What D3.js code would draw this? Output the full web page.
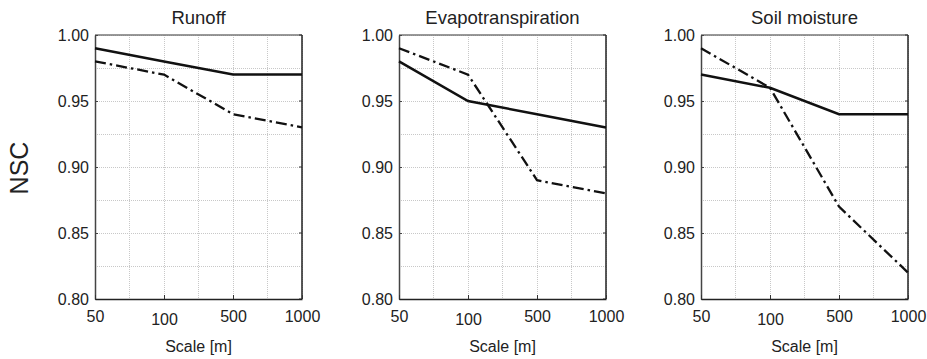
<!DOCTYPE html>
<html>
<head>
<meta charset="utf-8">
<script src="https://cdn.jsdelivr.net/npm/d3@7"></script>
<style>
  html, body { margin: 0; padding: 0; background: #fff; }
  svg { display: block; font-family: "Liberation Sans", Arial, sans-serif; }
</style>
</head>
<body>
<svg id="chart" width="927" height="359"></svg>
<script>
// Spatial scales (m) shown on the x axis
const scales = ["50", "100", "500", "1000"];
const panelTitles = ["Runoff", "Evapotranspiration", "Soil moisture"];
const yTicks = [0.80, 0.85, 0.90, 0.95, 1.00];

// NSC per scale, solid and dash-dot series for each variable
const runoffSolid = [0.99, 0.98, 0.97, 0.97];
const runoffDashDot = [0.98, 0.97, 0.94, 0.93];
const etSolid = [0.98, 0.95, 0.94, 0.93];
const etDashDot = [0.99, 0.97, 0.89, 0.88];
const soilSolid = [0.97, 0.96, 0.94, 0.94];
const soilDashDot = [0.99, 0.96, 0.87, 0.82];

const panels = [
  { title: panelTitles[0], solid: runoffSolid, dashdot: runoffDashDot, left: 95 },
  { title: panelTitles[1], solid: etSolid, dashdot: etDashDot, left: 399 },
  { title: panelTitles[2], solid: soilSolid, dashdot: soilDashDot, left: 701 }
];

const svg = d3.select("#chart");
const plotW = 207, plotTop = 35, plotBottom = 299;

const y = d3.scaleLinear().domain([0.80, 1.00]).range([plotBottom, plotTop]);

panels.forEach(p => {
  const last = scales.length - 1;
  const x = d3.scaleLinear().domain([0, last]).range([p.left, p.left + plotW]);
  const g = svg.append("g");

  // grid: half-step verticals, 0.025 horizontals
  const vGrid = d3.range(0, last + 0.01, 0.5);
  g.selectAll(".vg").data(vGrid).join("line")
    .attr("x1", d => x(d)).attr("x2", d => x(d))
    .attr("y1", plotTop).attr("y2", plotBottom)
    .attr("stroke", "#c8c8c8").attr("stroke-width", 1)
    .attr("stroke-dasharray", "1,1").attr("shape-rendering", "crispEdges");
  const hGrid = d3.range(0.80, 1.0001, 0.025);
  g.selectAll(".hg").data(hGrid).join("line")
    .attr("x1", p.left).attr("x2", p.left + plotW)
    .attr("y1", d => y(d)).attr("y2", d => y(d))
    .attr("stroke", "#c8c8c8").attr("stroke-width", 1)
    .attr("stroke-dasharray", "1,1").attr("shape-rendering", "crispEdges");

  // frame
  g.append("line").attr("x1", p.left).attr("x2", p.left + plotW).attr("y1", plotTop).attr("y2", plotTop)
    .attr("stroke", "#777").attr("stroke-width", 1.3);
  g.append("line").attr("x1", p.left + plotW).attr("x2", p.left + plotW).attr("y1", plotTop).attr("y2", plotBottom)
    .attr("stroke", "#222").attr("stroke-width", 1.5);

  // y axis (left) with inward ticks
  const yAxis = d3.axisLeft(y).tickValues(yTicks).tickFormat(d3.format(".2f"))
    .tickSizeInner(-3).tickSizeOuter(0).tickPadding(6);
  const ya = g.append("g").attr("transform", `translate(${p.left},0)`).call(yAxis);
  ya.select(".domain").attr("stroke", "#444").attr("stroke-width", 1.5);
  ya.selectAll(".tick line").attr("stroke", "#444");
  ya.selectAll("text").attr("font-size", 16).attr("fill", "#222");

  // right-side inward ticks
  g.selectAll(".rt").data(yTicks).join("line")
    .attr("x1", p.left + plotW).attr("x2", p.left + plotW - 3)
    .attr("y1", d => y(d)).attr("y2", d => y(d))
    .attr("stroke", "#333");

  // x axis (bottom) with inward ticks
  const xAxis = d3.axisBottom(x).tickValues(d3.range(scales.length))
    .tickFormat(i => scales[i]).tickSizeInner(-4).tickSizeOuter(0).tickPadding(12);
  const xa = g.append("g").attr("transform", `translate(0,${plotBottom})`).call(xAxis);
  xa.select(".domain").attr("stroke", "#222").attr("stroke-width", 1.5);
  xa.selectAll(".tick line").attr("stroke", "#333");
  xa.selectAll("text").attr("font-size", 16).attr("fill", "#222")
    .attr("dy", (d, i) => i === 1 ? "0.9em" : "0.71em");

  // series
  const line = d3.line().x((d, i) => x(i)).y(d => y(d));
  g.append("path").datum(p.dashdot).attr("d", line)
    .attr("fill", "none").attr("stroke", "#111").attr("stroke-width", 2.3)
    .attr("stroke-dasharray", "11,4,2.5,4");
  g.append("path").datum(p.solid).attr("d", line)
    .attr("fill", "none").attr("stroke", "#111").attr("stroke-width", 2.5);

  // panel title
  g.append("text").attr("x", p.left + plotW / 2).attr("y", 24)
    .attr("text-anchor", "middle").attr("font-size", 18.5).attr("fill", "#222")
    .text(p.title);

  // x axis label
  g.append("text").attr("x", p.left + plotW / 2).attr("y", 352)
    .attr("text-anchor", "middle").attr("font-size", 16).attr("fill", "#222")
    .text("Scale [m]");
});

// shared y label
svg.append("text")
  .attr("transform", "translate(28,168) rotate(-90)")
  .attr("text-anchor", "middle").attr("font-size", 25).attr("fill", "#222")
  .text("NSC");
</script>
</body>
</html>
